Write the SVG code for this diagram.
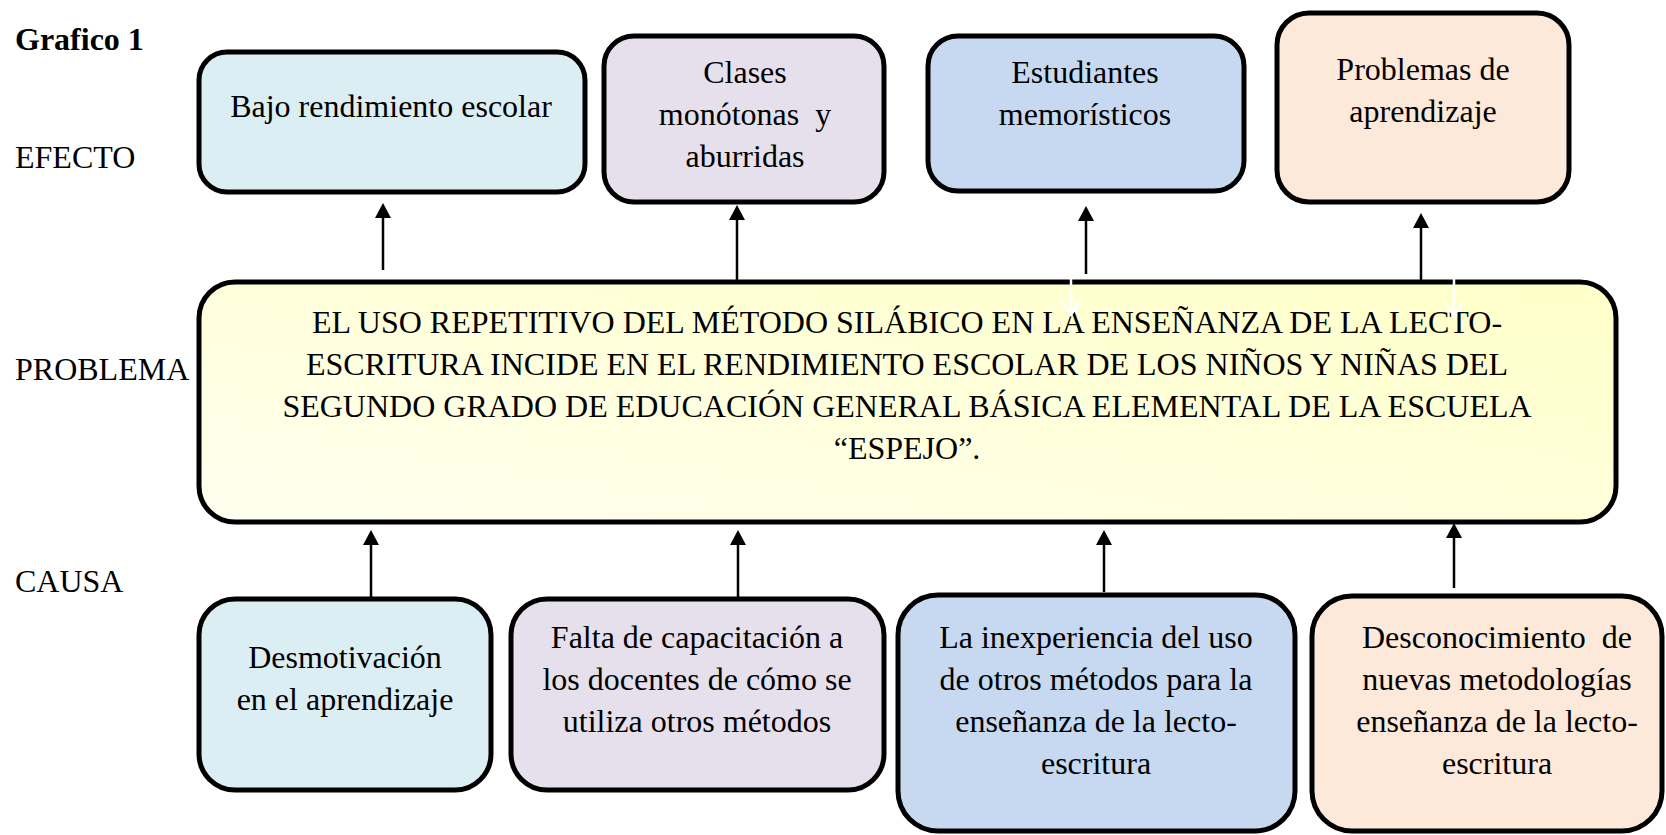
<svg xmlns="http://www.w3.org/2000/svg" width="1666" height="835" viewBox="0 0 1666 835">
<style>
text{font-family:"Liberation Serif","Times New Roman",serif;font-size:32px;fill:#000;white-space:pre}
.c{text-anchor:middle}
.b{font-weight:bold}
.box{stroke:#000;stroke-width:5}
.blue{fill:#DBEEF3}
.lav{fill:#E5E0EC}
.sky{fill:#C6D9F1}
.peach{fill:#FDE9D9}
.arr{stroke:#000;stroke-width:2.5;fill:none;marker-end:url(#ah)}
.warr{stroke:#fff;stroke-width:2.5;fill:none;marker-end:url(#wh)}
</style>
<defs>
<marker id="ah" markerUnits="userSpaceOnUse" viewBox="0 0 15 16" refX="0" refY="8" markerWidth="15" markerHeight="16" orient="auto">
<path d="M0,0 L15,8 L0,16 Z" fill="#000"/>
</marker>
<marker id="wh" markerUnits="userSpaceOnUse" viewBox="0 0 16 20" refX="14" refY="10" markerWidth="16" markerHeight="20" orient="auto">
<path d="M0,1 L14,10 L0,19" fill="none" stroke="#fff" stroke-width="2.5"/>
</marker>
<linearGradient id="yel" x1="0" y1="1" x2="1" y2="0">
<stop offset="0" stop-color="#FFFFF0"/>
<stop offset="1" stop-color="#FFFFC8"/>
</linearGradient>
</defs>
<rect width="1666" height="835" fill="#fff"/>

<g id="labels">
<text class="b" x="15" y="50">Grafico 1</text>
<text x="15" y="168">EFECTO</text>
<text x="15" y="380">PROBLEMA</text>
<text x="15" y="592">CAUSA</text>
</g>

<g id="connectors">
<path class="arr" d="M383,270 V218"/>
<path class="arr" d="M737,282 V220"/>
<path class="arr" d="M1086,274 V221"/>
<path class="arr" d="M1421,280 V228"/>
<path class="arr" d="M371,597 V545"/>
<path class="arr" d="M738,598 V545"/>
<path class="arr" d="M1104,592 V545"/>
<path class="arr" d="M1454,588 V538"/>
</g>

<g id="effect1">
<rect class="box blue" x="199" y="52" width="386" height="140" rx="28"/>
<text class="c" x="391" y="117">Bajo rendimiento escolar</text>
</g>
<g id="effect2">
<rect class="box lav" x="604" y="36" width="280" height="166" rx="30"/>
<text class="c" x="745" y="83">Clases</text>
<text class="c" x="745" y="125">monótonas  y</text>
<text class="c" x="745" y="167">aburridas</text>
</g>
<g id="effect3">
<rect class="box sky" x="928" y="36" width="316" height="155" rx="30"/>
<text class="c" x="1085" y="83">Estudiantes</text>
<text class="c" x="1085" y="125">memorísticos</text>
</g>
<g id="effect4">
<rect class="box peach" x="1277" y="13" width="292" height="189" rx="32"/>
<text class="c" x="1423" y="80">Problemas de</text>
<text class="c" x="1423" y="122">aprendizaje</text>
</g>

<g id="problem">
<rect class="box" fill="url(#yel)" x="199" y="282" width="1417" height="240" rx="36"/>
<text class="c" x="907" y="333">EL USO REPETITIVO DEL MÉTODO SILÁBICO EN LA ENSEÑANZA DE LA LECTO-</text>
<text class="c" x="907" y="375">ESCRITURA INCIDE EN EL RENDIMIENTO ESCOLAR DE LOS NIÑOS Y NIÑAS DEL</text>
<text class="c" x="907" y="417">SEGUNDO GRADO DE EDUCACIÓN GENERAL BÁSICA ELEMENTAL DE LA ESCUELA</text>
<text class="c" x="907" y="459">“ESPEJO”.</text>
</g>

<g id="white-marks">
<path class="warr" d="M1071,279 V315"/>
<path class="warr" d="M1454,278 V316"/>
</g>

<g id="cause1">
<rect class="box blue" x="199" y="599" width="292" height="191" rx="36"/>
<text class="c" x="345" y="668">Desmotivación</text>
<text class="c" x="345" y="710">en el aprendizaje</text>
</g>
<g id="cause2">
<rect class="box lav" x="511" y="599" width="373" height="191" rx="36"/>
<text class="c" x="697" y="648">Falta de capacitación a</text>
<text class="c" x="697" y="690">los docentes de cómo se</text>
<text class="c" x="697" y="732">utiliza otros métodos</text>
</g>
<g id="cause3">
<rect class="box sky" x="898" y="595" width="397" height="236" rx="40"/>
<text class="c" x="1096" y="648">La inexperiencia del uso</text>
<text class="c" x="1096" y="690">de otros métodos para la</text>
<text class="c" x="1096" y="732">enseñanza de la lecto-</text>
<text class="c" x="1096" y="774">escritura</text>
</g>
<g id="cause4">
<rect class="box peach" x="1312" y="596" width="350" height="235" rx="40"/>
<text class="c" x="1497" y="648">Desconocimiento  de</text>
<text class="c" x="1497" y="690">nuevas metodologías</text>
<text class="c" x="1497" y="732">enseñanza de la lecto-</text>
<text class="c" x="1497" y="774">escritura</text>
</g>
</svg>
